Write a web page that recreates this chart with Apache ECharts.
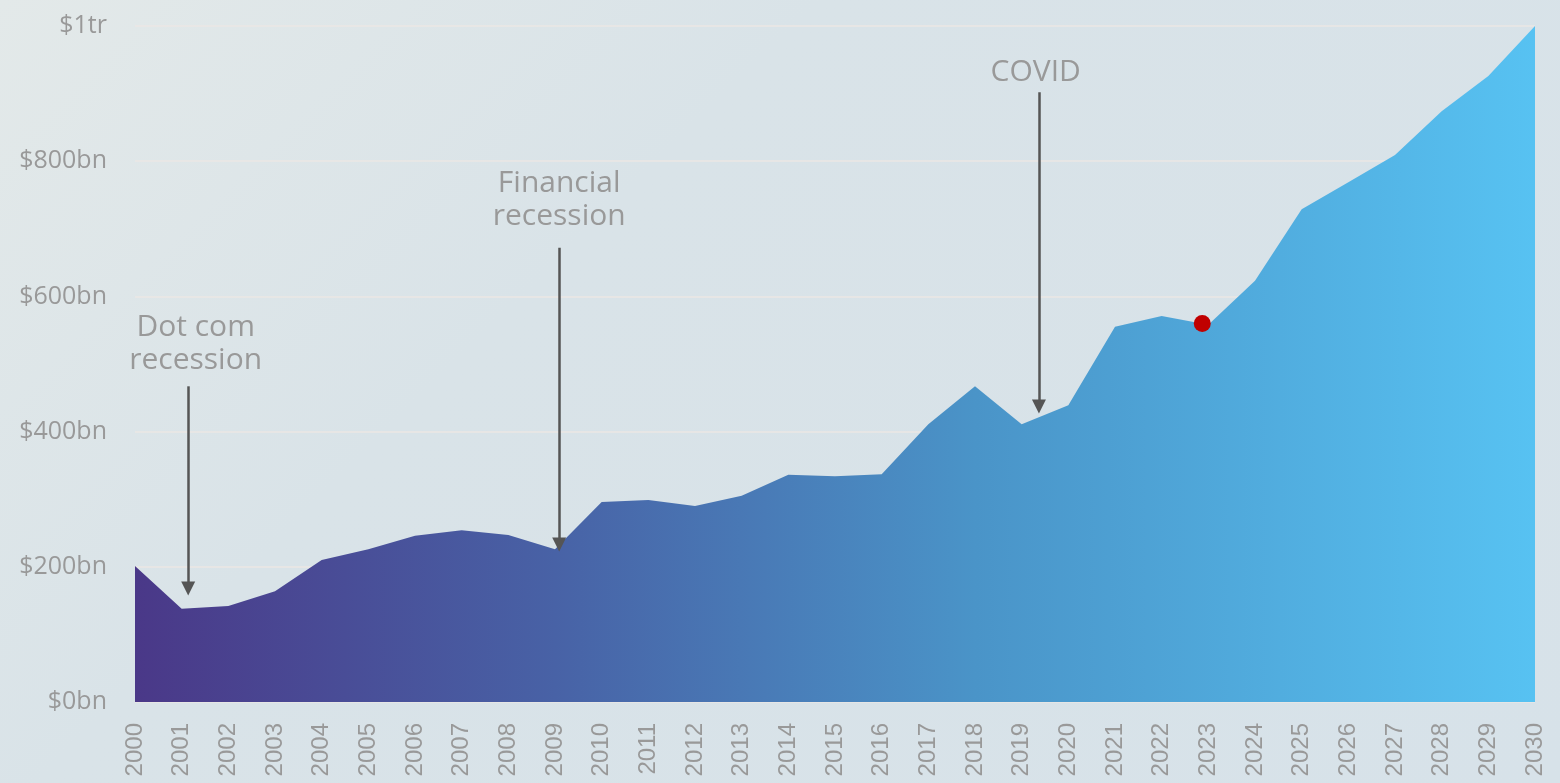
<!DOCTYPE html>
<html>
<head>
<meta charset="utf-8">
<script src="https://cdn.jsdelivr.net/npm/echarts@6/dist/echarts.min.js"></script>
<style>
  html, body { margin: 0; padding: 0; }
  body { background: linear-gradient(135deg, #e3e9e9 0%, #d9e3e8 35%, #d7e2e9 100%); }
  #chart { width: 1560px; height: 783px; }
</style>
</head>
<body>
<div id="chart"></div>
<script>
// years on the x axis
const years = [2000, 2001, 2002, 2003, 2004, 2005, 2006, 2007, 2008, 2009,
  2010, 2011, 2012, 2013, 2014, 2015, 2016, 2017, 2018, 2019,
  2020, 2021, 2022, 2023, 2024, 2025, 2026, 2027, 2028, 2029, 2030]
// market size, $bn
const values = [201, 138, 142, 164, 210, 226, 246, 254, 247, 226,
  296, 299, 290, 305, 336, 334, 337, 411, 467, 411,
  439, 555, 571, 558, 623, 729, 769, 809, 874, 926, 1000]
// y tick labels
const yTicks = { 0: '$0bn', 200: '$200bn', 400: '$400bn', 600: '$600bn', 800: '$800bn', 1000: '$1tr' }
// annotations: label, x position (year), arrow top, arrow tip, label anchor
const notes = [
  { text: 'Dot com\nrecession', x: 2001.14, from: 467, to: 168, labelX: 2001.3, labelY: 530 },
  { text: 'Financial\nrecession', x: 2009.09, from: 672, to: 233, labelX: 2009.09, labelY: 742 },
  { text: 'COVID', x: 2019.37, from: 902, to: 437, labelX: 2019.3, labelY: 932 }
]
// current-year marker
const current = [2022.87, 560]

const chart = echarts.init(document.getElementById('chart'))

chart.setOption({
  backgroundColor: 'transparent',
  animation: false,
  grid: { left: 135, right: 25, top: 26, bottom: 81 },
  xAxis: {
    type: 'value',
    min: 2000,
    max: 2030,
    interval: 1,
    axisLine: { show: false },
    axisTick: { show: false },
    splitLine: { show: false },
    axisLabel: {
      rotate: 90,
      color: '#999',
      fontSize: 24,
      fontFamily: 'Liberation Sans',
      margin: 21,
      formatter: v => String(v)
    }
  },
  yAxis: {
    type: 'value',
    min: 0,
    max: 1000,
    interval: 200,
    axisLine: { show: false },
    axisTick: { show: false },
    splitLine: { lineStyle: { color: '#ebe7e5', width: 1.5 } },
    axisLabel: {
      color: '#999',
      fontSize: 25,
      fontFamily: 'Open Sans',
      margin: 28,
      formatter: v => yTicks[v]
    }
  },
  series: [{
    type: 'line',
    data: years.map((y, i) => [y, values[i]]),
    symbol: 'none',
    lineStyle: { width: 0 },
    areaStyle: {
      opacity: 1,
      color: new echarts.graphic.LinearGradient(0, 0, 1, 0, [
        { offset: 0, color: '#4a3888' },
        { offset: 0.3, color: '#4862a6' },
        { offset: 0.6, color: '#4a94c8' },
        { offset: 1, color: '#57c2f2' }
      ])
    },
    markLine: {
      silent: true,
      symbol: ['none', 'triangle'],
      symbolSize: [14, 14],
      label: { show: false },
      lineStyle: { color: '#555', width: 2.5, type: 'solid' },
      data: notes.map(n => [{ coord: [n.x, n.from] }, { coord: [n.x, n.to] }])
    },
    markPoint: {
      silent: true,
      data: notes.map(n => ({
        coord: [n.labelX, n.labelY],
        symbolSize: 0,
        label: {
          show: true,
          formatter: n.text,
          color: '#999',
          fontSize: 30,
          fontFamily: 'Open Sans',
          lineHeight: 33,
          align: 'center',
          position: 'inside'
        }
      })).concat([{
        coord: current,
        symbol: 'circle',
        symbolSize: 17,
        itemStyle: { color: '#c00000' },
        label: { show: false }
      }])
    }
  }]
})
</script>
</body>
</html>
